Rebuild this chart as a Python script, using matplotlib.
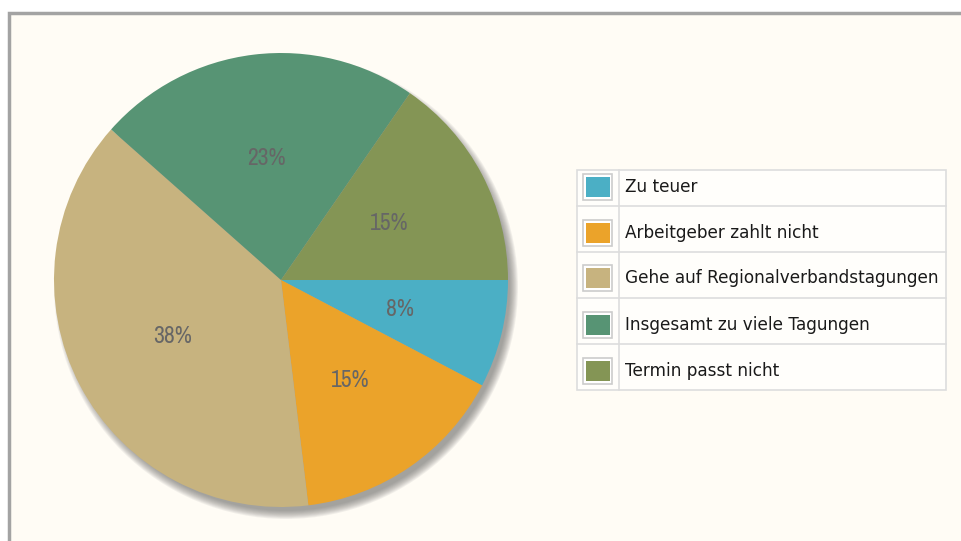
import matplotlib
matplotlib.use("Agg")
import matplotlib.pyplot as plt
from matplotlib.patches import Rectangle, Circle
from matplotlib import font_manager

categories = ["Zu teuer", "Arbeitgeber zahlt nicht", "Gehe auf Regionalverbandstagungen",
              "Insgesamt zu viele Tagungen", "Termin passt nicht"]
values = [1, 2, 5, 3, 2]
colors = ["#4BAFC5", "#EBA32A", "#C7B37F", "#579474", "#849555"]

W, H = 961, 541
fig = plt.figure(figsize=(W / 100, H / 100), dpi=100)
fig.patch.set_facecolor("white")
ax = fig.add_axes([0, 0, 1, 1])

def Y(py):
    return H - py

names = sorted({f.name for f in font_manager.fontManager.ttflist})
narrow = [n for n in names if "Condensed" in n or "Narrow" in n]
pct_family = narrow[0] if narrow else "DejaVu Sans"

# frame / background
ax.add_patch(Rectangle((9, -10), W + 20, Y(13) + 10, facecolor="#FFFCF5",
                       edgecolor="#A3A3A3", linewidth=2.5, zorder=0))

cx, cy, r = 281, Y(280), 227

# shadow (lower right)
for k in range(10):
    ax.add_patch(Circle((cx + 5, cy - 7), r + 5 - k * 0.9, facecolor="#6A6A6A",
                        alpha=0.085, edgecolor="none", zorder=1))

wedges, texts, autotexts = ax.pie(values, colors=colors, startangle=0, counterclock=False,
                                  center=(cx, cy), radius=r, autopct="%.0f%%",
                                  pctdistance=0.54, wedgeprops=dict(linewidth=0),
                                  frame=True)
for w in wedges:
    w.set_zorder(2)
for t in autotexts:
    t.set_color("#666666")
    t.set_fontsize(17)
    t.set_family(pct_family)
    t.set_fontstretch("condensed")
    t.set_zorder(3)

ax.set_xlim(0, W)
ax.set_ylim(0, H)
ax.set_aspect("equal")
ax.axis("off")

# legend table
left, sep, right = 577, 619, 946
rows = [170, 206, 252, 298, 344, 390]
centers = [187, 233, 278, 325, 371]
grid = "#DDDDDD"
ax.add_patch(Rectangle((left, Y(rows[-1])), right - left, rows[-1] - rows[0],
                       facecolor="#FFFEFB", edgecolor=grid, linewidth=1.2, zorder=4))
for yy in rows[1:-1]:
    ax.plot([left, right], [Y(yy), Y(yy)], color=grid, lw=1.2, zorder=5)
ax.plot([sep, sep], [Y(rows[0]), Y(rows[-1])], color=grid, lw=1.2, zorder=5)

for i, (cat, col) in enumerate(zip(categories, colors)):
    mid = centers[i]
    ax.add_patch(Rectangle((583, Y(mid + 13)), 29, 26, facecolor="white",
                           edgecolor="#CCCCCC", linewidth=1.2, zorder=6))
    ax.add_patch(Rectangle((586, Y(mid + 10)), 24, 20, facecolor=col,
                           edgecolor="none", zorder=7))
    ax.text(625, Y(mid), cat, fontsize=12.2, color="#1A1A1A", va="center", ha="left",
            zorder=8)

fig.savefig("out.png", dpi=100, facecolor=fig.get_facecolor())
